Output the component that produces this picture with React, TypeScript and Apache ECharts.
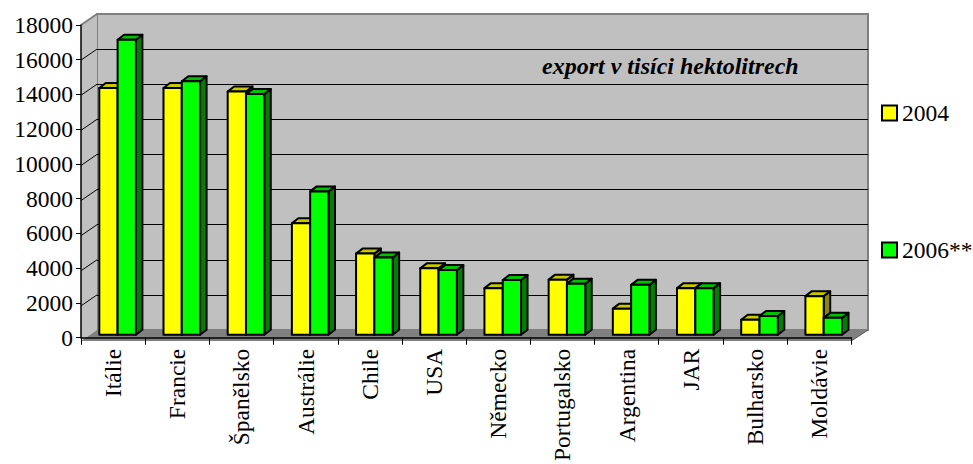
import React, { useEffect, useRef } from "react";
import * as echarts from "echarts";

const categories = ["Itálie", "Francie", "Španělsko", "Austrálie", "Chile", "USA", "Německo", "Portugalsko", "Argentina", "JAR", "Bulharsko", "Moldávie"];
const values2004 = [14200, 14200, 14000, 6420, 4670, 3820, 2680, 3170, 1500, 2680, 860, 2220];
const values2006 = [16980, 14590, 13850, 8250, 4440, 3720, 3150, 2940, 2870, 2680, 1080, 970];
const seriesNames = ["2004", "2006**"];
const yTicks = [0, 2000, 4000, 6000, 8000, 10000, 12000, 14000, 16000, 18000];
const titleText = "export v tisíci hektolitrech";

const FONT = "Liberation Serif";
const FS = 23.5;

// layout
const FRONT = { left: 81, right: 851.3, top: 25, bottom: 341 };
const BACK = { left: 97, right: 868, top: 14, bottom: 330 };
const DX = 4.5;
const DY = -3;
const DEPTH_X = 6.5;
const DEPTH_Y = -5;

function makeRender(which: number, front: string, topc: string, side: string) {
  return (params: any, api: any) => {
    const idx = api.value(0);
    const v = api.value(1);
    const base = api.coord([idx, 0]);
    const top = api.coord([idx, v]);
    const band = api.size([1, 0])[0];
    const w = band * 0.285;
    const cx = base[0] + DX;
    const x0 = which === 0 ? cx - w : cx;
    const x1 = x0 + w;
    const yb = base[1] + DY;
    const yt = top[1] + DY;
    const st = { stroke: "#000", lineWidth: 2, lineJoin: "round" };
    return {
      type: "group",
      children: [
        {
          type: "polygon",
          shape: { points: [[x1, yb], [x1 + DEPTH_X, yb + DEPTH_Y], [x1 + DEPTH_X, yt + DEPTH_Y], [x1, yt]] },
          style: { fill: side, ...st },
        },
        {
          type: "polygon",
          shape: { points: [[x0, yt], [x0 + DEPTH_X, yt + DEPTH_Y], [x1 + DEPTH_X, yt + DEPTH_Y], [x1, yt]] },
          style: { fill: topc, ...st },
        },
        {
          type: "rect",
          shape: { x: x0, y: yt, width: w, height: yb - yt },
          style: { fill: front, ...st },
        },
      ],
    };
  };
}

export default function App() {
  const ref = useRef<HTMLDivElement>(null);
  useEffect(() => {
    if (!ref.current) return;
    const chart = echarts.init(ref.current, null, { renderer: "svg" });
    const maxV = yTicks[yTicks.length - 1];
    const fh = FRONT.bottom - FRONT.top;
    const wallLines: any[] = yTicks.slice(1, -1).map((t) => ({
      type: "line",
      z: 1,
      shape: {
        x1: FRONT.left,
        y1: FRONT.bottom - (t / maxV) * fh,
        x2: BACK.left,
        y2: BACK.bottom - (t / maxV) * fh,
      },
      style: { stroke: "#000", lineWidth: 1 },
    }));
    const splitColors = yTicks.map((t, i) => (i === 0 || i === yTicks.length - 1 ? "#808080" : "#000"));
    chart.setOption({
      animation: false,
      textStyle: { fontFamily: FONT },
      grid: [
        {
          left: FRONT.left,
          right: 973 - FRONT.right,
          top: FRONT.top,
          bottom: 464 - FRONT.bottom,
          containLabel: false,
        },
        {
          left: BACK.left,
          right: 973 - BACK.right,
          top: BACK.top,
          bottom: 464 - BACK.bottom,
          show: true,
          backgroundColor: "#c0c0c0",
          borderColor: "#808080",
          borderWidth: 2,
          containLabel: false,
        },
      ],
      xAxis: [
        {
          type: "category",
          gridIndex: 0,
          data: categories,
          z: 3,
          axisLine: { show: true, lineStyle: { color: "#000", width: 1.5 } },
          axisTick: { show: true, length: 7, lineStyle: { color: "#000" } },
          axisLabel: {
            rotate: 90,
            interval: 0,
            margin: 11,
            fontSize: FS,
            fontFamily: FONT,
            color: "#000",
          },
          splitLine: { show: false },
        },
        { type: "category", gridIndex: 1, data: categories, show: false },
      ],
      yAxis: [
        {
          type: "value",
          gridIndex: 0,
          min: 0,
          max: 18000,
          interval: 2000,
          z: 3,
          axisLine: { show: true, lineStyle: { color: "#000", width: 1.5 } },
          axisTick: { show: true, length: 5, lineStyle: { color: "#000" } },
          axisLabel: {
            margin: 8,
            fontSize: FS,
            fontFamily: FONT,
            color: "#000",
            formatter: (v: number) => String(v),
          },
          splitLine: { show: false },
        },
        {
          type: "value",
          gridIndex: 1,
          min: 0,
          max: 18000,
          interval: 2000,
          axisLine: { show: false },
          axisTick: { show: false },
          axisLabel: { show: false },
          splitLine: { show: true, lineStyle: { color: splitColors, width: 1 } },
        },
      ],
      legend: {
        data: seriesNames,
        orient: "vertical",
        left: 881,
        top: 100,
        padding: 0,
        itemWidth: 15,
        itemHeight: 15,
        itemGap: 111,
        icon: "rect",
        itemStyle: { borderColor: "#000", borderWidth: 2 },
        textStyle: { fontSize: FS, fontFamily: FONT, color: "#000", lineHeight: 26 },
      },
      graphic: [
        {
          type: "polygon",
          z: 1,
          shape: {
            points: [
              [FRONT.left, FRONT.top],
              [BACK.left, BACK.top],
              [BACK.left, BACK.bottom],
              [FRONT.left, FRONT.bottom],
            ],
          },
          style: { fill: "#c0c0c0" },
        },
        {
          type: "line",
          z: 1,
          shape: { x1: FRONT.left, y1: FRONT.top, x2: BACK.left, y2: BACK.top },
          style: { stroke: "#808080", lineWidth: 2 },
        },
        ...wallLines,
        {
          type: "polygon",
          z: 1,
          shape: {
            points: [
              [FRONT.left, FRONT.bottom],
              [FRONT.right, FRONT.bottom],
              [BACK.right, BACK.bottom],
              [BACK.left, BACK.bottom],
            ],
          },
          style: { fill: "#808080" },
        },
        {
          type: "line",
          z: 1,
          shape: { x1: FRONT.right, y1: FRONT.bottom, x2: BACK.right, y2: BACK.bottom },
          style: { stroke: "#555", lineWidth: 1 },
        },
        {
          type: "text",
          z: 2,
          x: 542,
          y: 66,
          style: {
            text: titleText,
            fontFamily: FONT,
            fontSize: 24,
            fontStyle: "italic",
            fontWeight: "bold",
            fill: "#000",
            align: "left",
            verticalAlign: "middle",
          },
        },
      ],
      series: [
        {
          name: seriesNames[0],
          type: "custom",
          xAxisIndex: 0,
          yAxisIndex: 0,
          z: 5,
          itemStyle: { color: "#ffff00" },
          renderItem: makeRender(0, "#ffff00", "#c8c800", "#8a8a00"),
          data: values2004.map((v, i) => [i, v]),
        },
        {
          name: seriesNames[1],
          type: "custom",
          xAxisIndex: 0,
          yAxisIndex: 0,
          z: 6,
          itemStyle: { color: "#00ff00" },
          renderItem: makeRender(1, "#00ff00", "#00c000", "#008000"),
          data: values2006.map((v, i) => [i, v]),
        },
      ],
    });
    return () => chart.dispose();
  }, []);
  return (
    <div
      ref={ref}
      style={{ position: "fixed", left: 0, top: 0, width: 973, height: 464, background: "#fff" }}
    />
  );
}
